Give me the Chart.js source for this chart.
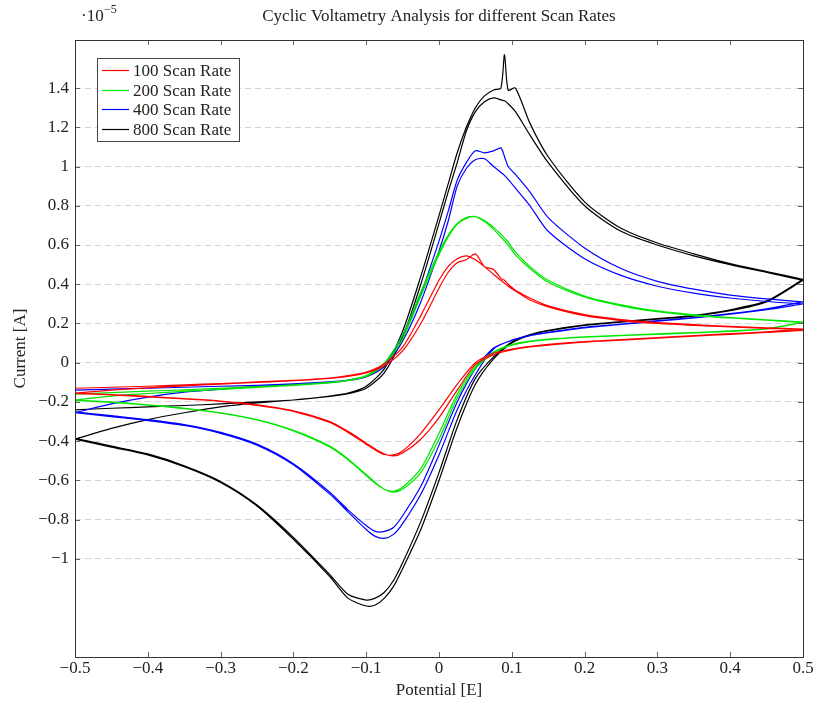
<!DOCTYPE html>
<html>
<head>
<meta charset="utf-8">
<title>Cyclic Voltametry</title>
<script src="https://cdn.jsdelivr.net/npm/chart.js@4.4.1/dist/chart.umd.min.js"></script>
<style>
  html, body { margin: 0; padding: 0; background: #fff; }
  #cvChart { display: block; }
</style>
</head>
<body>
<canvas id="cvChart" width="817" height="706"></canvas>
<script>
// Potential grids (V) for the anodic (forward) and cathodic (reverse) sweeps
const potentialForward = [-0.5, -0.45, -0.4, -0.35, -0.3, -0.25, -0.2, -0.15, -0.125, -0.1, -0.075, -0.05, -0.025, 0,
  0.0125, 0.025, 0.0375, 0.05, 0.0625, 0.075, 0.085, 0.09, 0.095, 0.105, 0.125, 0.15, 0.2, 0.25, 0.3, 0.35, 0.4, 0.45, 0.5];
const potentialReverse = [0.5, 0.45, 0.4, 0.35, 0.3, 0.25, 0.2, 0.15, 0.125, 0.1, 0.075, 0.05, 0.025, 0, -0.025, -0.05,
  -0.0625, -0.075, -0.0875, -0.1, -0.125, -0.15, -0.2, -0.25, -0.3, -0.35, -0.4, -0.45, -0.5];

// Currents in units of 1e-5 A, two cycles per scan rate
const rate100Fwd1 = [-0.13, -0.125, -0.12, -0.113, -0.106, -0.098, -0.09, -0.078, -0.066, -0.048, -0.005, 0.08, 0.24, 0.42,
  0.49, 0.53, 0.545, 0.525, 0.49, 0.45, 0.42, 0.405, 0.39, 0.365, 0.32, 0.285, 0.24, 0.215, 0.2, 0.19, 0.182, 0.175, 0.17];
const rate100Rev1 = [0.165, 0.155, 0.145, 0.135, 0.125, 0.115, 0.105, 0.09, 0.08, 0.065, 0.04, -0.01, -0.14, -0.28, -0.39, -0.46,
  -0.475, -0.465, -0.44, -0.41, -0.35, -0.3, -0.245, -0.215, -0.195, -0.183, -0.172, -0.162, -0.155];
const rate100Fwd2 = [-0.155, -0.14, -0.128, -0.118, -0.109, -0.1, -0.092, -0.08, -0.07, -0.052, -0.015, 0.06, 0.2, 0.38,
  0.46, 0.51, 0.525, 0.555, 0.49, 0.475, 0.43, 0.42, 0.4, 0.37, 0.33, 0.29, 0.245, 0.22, 0.205, 0.194, 0.186, 0.178, 0.172];
const rate100Rev2 = [0.172, 0.158, 0.148, 0.138, 0.128, 0.118, 0.108, 0.094, 0.084, 0.07, 0.048, 0.0, -0.11, -0.24, -0.36, -0.45,
  -0.47, -0.468, -0.445, -0.415, -0.355, -0.305, -0.248, -0.218, -0.197, -0.185, -0.174, -0.164, -0.157];

const rate200Fwd1 = [-0.16, -0.152, -0.145, -0.138, -0.13, -0.122, -0.113, -0.1, -0.088, -0.065, 0.0, 0.14, 0.36, 0.565,
  0.65, 0.71, 0.74, 0.745, 0.72, 0.68, 0.64, 0.62, 0.6, 0.55, 0.48, 0.41, 0.335, 0.29, 0.26, 0.24, 0.228, 0.217, 0.205];
const rate200Rev1 = [0.205, 0.172, 0.16, 0.152, 0.145, 0.138, 0.13, 0.118, 0.108, 0.09, 0.05, -0.03, -0.18, -0.39, -0.56, -0.645,
  -0.66, -0.645, -0.61, -0.57, -0.49, -0.425, -0.345, -0.29, -0.255, -0.232, -0.215, -0.2, -0.19];
const rate200Fwd2 = [-0.19, -0.17, -0.157, -0.146, -0.136, -0.126, -0.116, -0.103, -0.091, -0.07, -0.01, 0.12, 0.34, 0.55,
  0.64, 0.705, 0.735, 0.745, 0.725, 0.69, 0.655, 0.635, 0.615, 0.565, 0.49, 0.42, 0.34, 0.295, 0.264, 0.244, 0.23, 0.219, 0.207];
const rate200Rev2 = [0.207, 0.174, 0.162, 0.154, 0.147, 0.14, 0.132, 0.12, 0.11, 0.093, 0.055, -0.02, -0.16, -0.36, -0.54, -0.635,
  -0.655, -0.645, -0.615, -0.575, -0.495, -0.43, -0.348, -0.292, -0.257, -0.234, -0.216, -0.202, -0.192];

const rate400Fwd1 = [-0.14, -0.135, -0.13, -0.125, -0.12, -0.115, -0.108, -0.097, -0.088, -0.07, -0.01, 0.14, 0.35, 0.62,
  0.77, 0.93, 1.02, 1.08, 1.07, 1.08, 1.095, 1.05, 1.0, 0.96, 0.87, 0.74, 0.585, 0.48, 0.415, 0.375, 0.345, 0.325, 0.31];
const rate400Rev1 = [0.31, 0.275, 0.25, 0.23, 0.215, 0.197, 0.18, 0.155, 0.14, 0.115, 0.07, -0.06, -0.24, -0.47, -0.67, -0.82,
  -0.875, -0.895, -0.885, -0.85, -0.76, -0.67, -0.52, -0.42, -0.36, -0.32, -0.295, -0.275, -0.255];
const rate400Fwd2 = [-0.255, -0.21, -0.175, -0.15, -0.135, -0.122, -0.112, -0.1, -0.09, -0.072, -0.02, 0.11, 0.31, 0.57,
  0.72, 0.9, 0.99, 1.035, 1.04, 1.0, 0.97, 0.955, 0.935, 0.89, 0.8, 0.67, 0.53, 0.445, 0.39, 0.355, 0.33, 0.312, 0.3];
const rate400Rev2 = [0.3, 0.27, 0.247, 0.228, 0.212, 0.195, 0.178, 0.153, 0.138, 0.113, 0.075, -0.03, -0.2, -0.42, -0.63, -0.78,
  -0.84, -0.86, -0.86, -0.83, -0.75, -0.66, -0.515, -0.415, -0.355, -0.315, -0.29, -0.27, -0.25];

const rate800Fwd1 = [-0.24, -0.232, -0.225, -0.218, -0.21, -0.2, -0.19, -0.172, -0.158, -0.13, -0.05, 0.13, 0.4, 0.71,
  0.87, 1.02, 1.18, 1.28, 1.33, 1.35, 1.34, 1.335, 1.32, 1.28, 1.16, 1.02, 0.8, 0.67, 0.6, 0.545, 0.5, 0.46, 0.42];
const rate800Rev1 = [0.42, 0.31, 0.265, 0.238, 0.222, 0.207, 0.19, 0.162, 0.14, 0.1, 0.02, -0.11, -0.33, -0.6, -0.85, -1.05,
  -1.14, -1.2, -1.235, -1.24, -1.2, -1.09, -0.9, -0.73, -0.61, -0.53, -0.47, -0.43, -0.39];
const rate800Fwd2 = [-0.39, -0.335, -0.29, -0.255, -0.225, -0.205, -0.19, -0.17, -0.155, -0.12, -0.03, 0.16, 0.44, 0.75,
  0.91, 1.07, 1.2, 1.3, 1.36, 1.39, 1.4, 1.57, 1.39, 1.4, 1.22, 1.05, 0.82, 0.685, 0.61, 0.555, 0.505, 0.465, 0.425];
const rate800Rev2 = [0.425, 0.315, 0.27, 0.242, 0.225, 0.21, 0.193, 0.165, 0.143, 0.105, 0.03, -0.08, -0.29, -0.56, -0.81, -1.02,
  -1.11, -1.17, -1.2, -1.21, -1.18, -1.08, -0.89, -0.725, -0.605, -0.525, -0.465, -0.425, -0.385];

const xTicks = [-0.5, -0.4, -0.3, -0.2, -0.1, 0, 0.1, 0.2, 0.3, 0.4, 0.5];
const yTicks = [-1, -0.8, -0.6, -0.4, -0.2, 0, 0.2, 0.4, 0.6, 0.8, 1, 1.2, 1.4];

const chartTitle = 'Cyclic Voltametry Analysis for different Scan Rates';
const serif = "'Liberation Serif', 'DejaVu Serif', serif";
const textColor = '#222';
const fontSize = 17;

// one full CV loop: forward sweep then reverse sweep
function cycle(fwd, rev) {
  return potentialForward.map((x, i) => ({ x, y: fwd[i] }))
    .concat(potentialReverse.map((x, i) => ({ x, y: rev[i] })));
}

function scanRate(label, color, cycles) {
  return {
    label: label,
    data: cycles.flat(),
    borderColor: color,
    backgroundColor: color,
    borderWidth: 1.2,
    pointRadius: 0,
    showLine: true,
    tension: 0.25
  };
}

function fmt(v) {
  return String(+v.toFixed(2)).replace('-', '\u2212');
}

// inner tick marks, frame, legend box, title and the 10^-5 multiplier
const axisDecor = {
  id: 'axisDecor',
  afterDatasetsDraw(chart) {
    const ctx = chart.ctx;
    const { left, right, top, bottom } = chart.chartArea;
    const xs = chart.scales.x, ys = chart.scales.y;
    ctx.save();
    ctx.strokeStyle = '#666';
    ctx.lineWidth = 1;
    ctx.beginPath();
    xTicks.forEach(v => {
      const px = Math.round(xs.getPixelForValue(v)) + 0.5;
      ctx.moveTo(px, bottom); ctx.lineTo(px, bottom - 5);
      ctx.moveTo(px, top); ctx.lineTo(px, top + 5);
    });
    yTicks.forEach(v => {
      const py = Math.round(ys.getPixelForValue(v)) + 0.5;
      ctx.moveTo(left, py); ctx.lineTo(left + 5, py);
      ctx.moveTo(right, py); ctx.lineTo(right - 5, py);
    });
    ctx.stroke();

    ctx.strokeStyle = '#333';
    ctx.strokeRect(Math.round(left) + 0.5, Math.round(top) + 0.5,
      Math.round(right - left), Math.round(bottom - top));

    // legend
    const bx = left + 22, by = top + 18, bw = 142, bh = 83;
    ctx.fillStyle = '#fff';
    ctx.fillRect(bx, by, bw, bh);
    ctx.strokeStyle = '#444';
    ctx.strokeRect(bx + 0.5, by + 0.5, bw, bh);
    ctx.font = fontSize + 'px ' + serif;
    ctx.textBaseline = 'middle';
    chart.data.datasets.forEach((ds, i) => {
      const ly = Math.round(by + 12 + i * 19.5) + 0.5;
      ctx.strokeStyle = ds.borderColor;
      ctx.lineWidth = 1.2;
      ctx.beginPath();
      ctx.moveTo(bx + 5, ly);
      ctx.lineTo(bx + 32, ly);
      ctx.stroke();
      ctx.fillStyle = textColor;
      ctx.fillText(ds.label, bx + 36, ly + 1);
    });

    // title centred over the plot area
    ctx.fillStyle = textColor;
    ctx.textAlign = 'center';
    ctx.fillText(chartTitle, (left + right) / 2, 17);

    // axis multiplier
    ctx.textAlign = 'left';
    ctx.textBaseline = 'alphabetic';
    ctx.fillText('\u00b710', 81, 21);
    ctx.font = '12px ' + serif;
    ctx.fillText('\u22125', 104, 13);
    ctx.restore();
  }
};

const ctx = document.getElementById('cvChart').getContext('2d');
new Chart(ctx, {
  type: 'scatter',
  data: {
    datasets: [
      scanRate('100 Scan Rate', '#ff0000', [cycle(rate100Fwd1, rate100Rev1), cycle(rate100Fwd2, rate100Rev2)]),
      scanRate('200 Scan Rate', '#00e600', [cycle(rate200Fwd1, rate200Rev1), cycle(rate200Fwd2, rate200Rev2)]),
      scanRate('400 Scan Rate', '#0000ff', [cycle(rate400Fwd1, rate400Rev1), cycle(rate400Fwd2, rate400Rev2)]),
      scanRate('800 Scan Rate', '#000000', [cycle(rate800Fwd1, rate800Rev1), cycle(rate800Fwd2, rate800Rev2)])
    ]
  },
  options: {
    responsive: false,
    animation: false,
    devicePixelRatio: 1,
    layout: {
      padding: { left: 0, right: 14, top: 40, bottom: 0 }
    },
    plugins: {
      legend: { display: false },
      tooltip: { enabled: false },
      title: { display: false }
    },
    scales: {
      x: {
        type: 'linear',
        min: -0.5,
        max: 0.5,
        afterBuildTicks: scale => { scale.ticks = xTicks.map(v => ({ value: v })); },
        afterFit: scale => { scale.height = 49; },
        grid: { display: false, drawTicks: false },
        border: { display: false },
        ticks: {
          color: textColor,
          font: { family: serif, size: fontSize },
          padding: 1,
          maxRotation: 0,
          autoSkip: false,
          callback: v => fmt(v)
        },
        title: {
          display: true,
          text: 'Potential [E]',
          color: textColor,
          font: { family: serif, size: fontSize },
          padding: { top: 0, bottom: 5 }
        }
      },
      y: {
        type: 'linear',
        min: -1.5,
        max: 1.645,
        afterBuildTicks: scale => { scale.ticks = yTicks.map(v => ({ value: v })); },
        afterFit: scale => { scale.width = 75; },
        grid: { color: '#d4d4d4', lineWidth: 1, drawTicks: false },
        border: { display: false, dash: [6, 4] },
        ticks: {
          color: textColor,
          font: { family: serif, size: fontSize },
          padding: 6,
          autoSkip: false,
          callback: v => fmt(v)
        },
        title: {
          display: true,
          text: 'Current [A]',
          color: textColor,
          font: { family: serif, size: fontSize },
          padding: { top: 10, bottom: 0 }
        }
      }
    }
  },
  plugins: [axisDecor]
});
</script>
</body>
</html>
